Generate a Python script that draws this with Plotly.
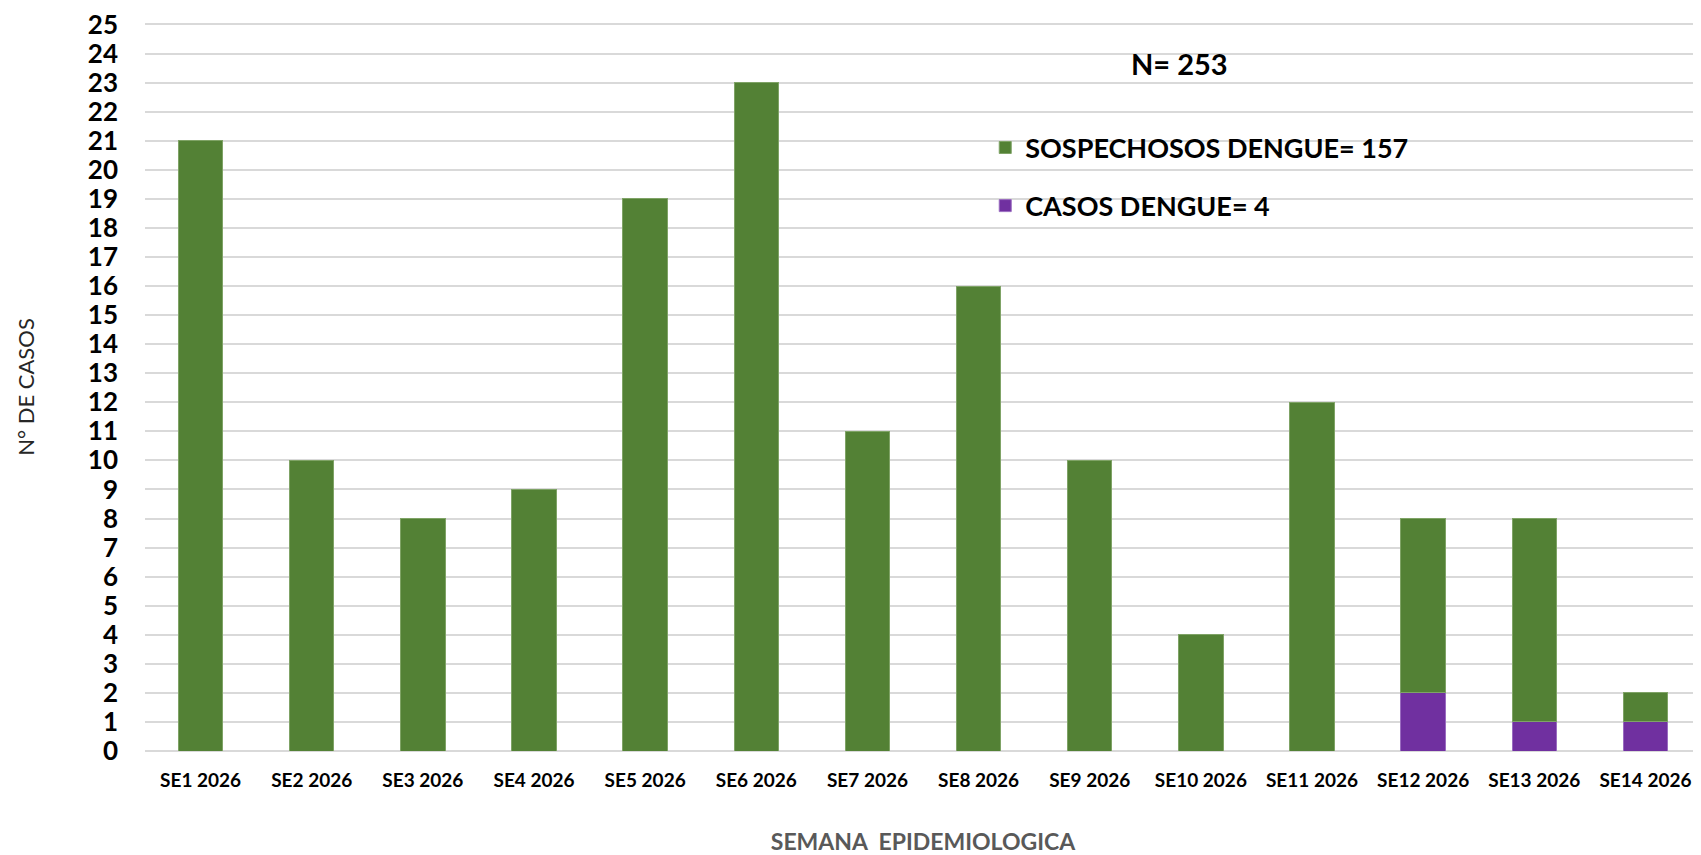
import plotly.graph_objects as go

categories = ["SE1 2026", "SE2 2026", "SE3 2026", "SE4 2026", "SE5 2026", "SE6 2026", "SE7 2026",
              "SE8 2026", "SE9 2026", "SE10 2026", "SE11 2026", "SE12 2026", "SE13 2026", "SE14 2026"]
casos = [0, 0, 0, 0, 0, 0, 0, 0, 0, 0, 0, 2, 1, 1]
sospechosos = [21, 10, 8, 9, 19, 23, 11, 16, 10, 4, 12, 6, 7, 1]
y_ticks = list(range(0, 26))

GREEN = "#538135"
PURPLE = "#7030A0"
FONT = "Lato"

fig = go.Figure()
fig.add_trace(go.Bar(
    x=categories, y=casos, name="CASOS DENGUE= 4",
    marker=dict(color=PURPLE, line=dict(color="#9a6cc0", width=1)),
    legendgroup="c", legendrank=2,
))
fig.add_trace(go.Bar(
    x=categories, y=sospechosos, name="SOSPECHOSOS DENGUE= 157",
    marker=dict(color=GREEN, line=dict(color="#7fa366", width=1)),
    legendgroup="s", legendrank=1,
))

# page body has an 8px margin, so the figure is sized to end at the window edge
fig.update_layout(
    width=1693, height=847,
    barmode="stack", bargap=0.6,
    plot_bgcolor="white", paper_bgcolor="white",
    margin=dict(l=137, r=0, t=15, b=104),
    font=dict(family=FONT, color="black"),
    legend=dict(
        x=0.540, y=0.862, xanchor="left", yanchor="top",
        font=dict(family=FONT, size=27, color="black", weight="bold"),
        bgcolor="rgba(0,0,0,0)", tracegroupgap=20, itemwidth=30,
    ),
    xaxis=dict(
        showgrid=False, showline=False, ticks="",
        tickfont=dict(family=FONT, size=19, color="black", weight="bold"),
        ticklabelstandoff=16,
        title=dict(text="SEMANA  EPIDEMIOLOGICA", standoff=43,
                   font=dict(family=FONT, size=23, color="#595959", weight="bold")),
        automargin=False,
    ),
    yaxis=dict(
        range=[0, 25.05], tickvals=y_ticks, ticktext=[str(v) for v in y_ticks],
        showgrid=True, gridcolor="#d9d9d9", gridwidth=2,
        zeroline=True, zerolinecolor="#d9d9d9", zerolinewidth=2,
        showline=False, ticks="",
        tickfont=dict(family=FONT, size=26, color="black", weight="bold"),
        ticklabelstandoff=26, ticklabeloverflow="allow",
        title=dict(text="N° DE CASOS", standoff=47,
                   font=dict(family=FONT, size=22, color="#262626")),
        automargin=False,
    ),
    annotations=[dict(
        text="N= 253", x=0.665, y=0.945, xref="paper", yref="paper",
        xanchor="center", yanchor="middle", showarrow=False,
        font=dict(family=FONT, size=29, color="black", weight="bold"),
    )],
)

fig.write_html("out.html")
